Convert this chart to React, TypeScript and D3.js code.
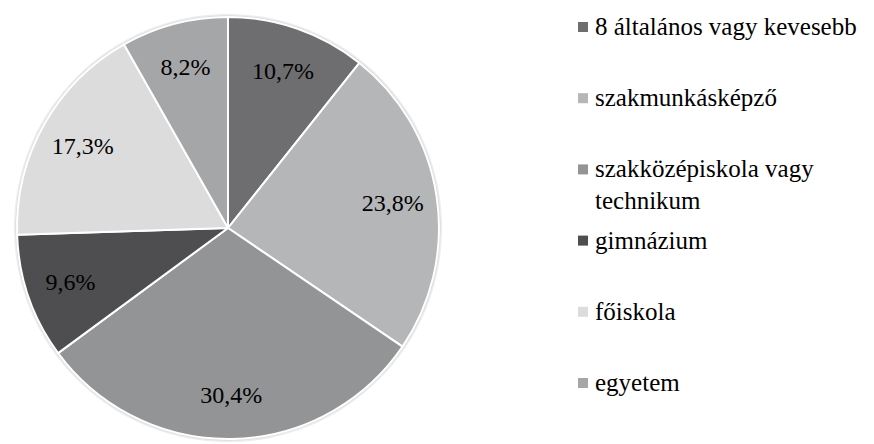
import React from 'react';
import * as d3 from 'd3';

const categories = [
  '8 általános vagy kevesebb',
  'szakmunkásképző',
  'szakközépiskola vagy technikum',
  'gimnázium',
  'főiskola',
  'egyetem',
];
const values = [10.7, 23.8, 30.4, 9.6, 17.3, 8.2];
const labels = ['10,7%', '23,8%', '30,4%', '9,6%', '17,3%', '8,2%'];
// legend wraps like the original
const legendLines = [
  ['8 általános vagy kevesebb'],
  ['szakmunkásképző'],
  ['szakközépiskola vagy', 'technikum'],
  ['gimnázium'],
  ['főiskola'],
  ['egyetem'],
];
const colors = ['#6e6e70', '#b5b6b8', '#939496', '#4e4e50', '#dcdcdd', '#a5a6a8'];

const W = 874;
const H = 444;

export default function App() {
  const cx = 228;
  const cy = 228;
  const radius = 211;

  const color = d3.scaleOrdinal<string, string>().domain(categories).range(colors);
  const pie = d3.pie<number>().sort(null).value((d) => d);
  const arcs = pie(values);
  const arc = d3.arc<d3.PieArcDatum<number>>().innerRadius(0).outerRadius(radius);
  const labelArc = d3.arc<d3.PieArcDatum<number>>().innerRadius(radius * 0.79).outerRadius(radius * 0.79);

  // legend rows
  const legendY = d3.scaleLinear().domain([0, categories.length - 1]).range([27, 383]);

  return (
    <svg width={W} height={H} style={{ marginLeft: -8, marginTop: -8, display: 'block' }}>
      <g transform={`translate(${cx},${cy})`}>
        <circle r={radius + 3} fill="#ececec" />
        <circle r={radius + 1.5} fill="#d6d6d6" />
        {arcs.map((a, i) => (
          <path key={i} d={arc(a) || ''} fill={color(categories[i])} stroke="#fff" strokeWidth={2} strokeLinejoin="round" />
        ))}
      </g>
      {arcs.map((a, i) => {
        const [x, y] = labelArc.centroid(a);
        // drawn at 28px and scaled down to ~24px
        return (
          <text key={'l' + i} transform={`translate(${cx + x},${cy + y + 8}) scale(${24 / 28})`}
            textAnchor="middle" fontSize={28} style={{ fontFamily: 'Liberation Serif' }}>
            {labels[i]}
          </text>
        );
      })}
      {categories.map((c, i) => (
        <rect key={'r' + i} x={578} y={legendY(i) - 5} width={10} height={10} fill={color(c)} />
      ))}
      {categories.map((c, i) =>
        legendLines[i].map((line, j) => (
          <text key={c + j} transform={`translate(595,${legendY(i) + j * 32 + 8}) scale(${25 / 28})`}
            fontSize={28} style={{ fontFamily: 'Liberation Serif' }}>
            {line}
          </text>
        ))
      )}
    </svg>
  );
}
